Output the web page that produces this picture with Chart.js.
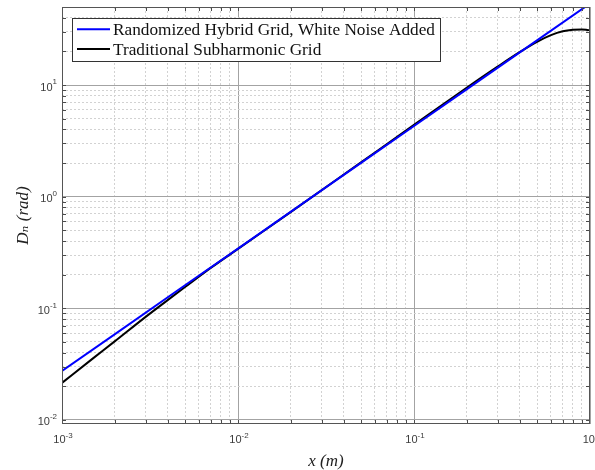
<!DOCTYPE html>
<html><head><meta charset="utf-8">
<script src="https://cdn.jsdelivr.net/npm/chart.js@4"></script>
<style>html,body{margin:0;padding:0;background:#fff}#wrap{width:595px;height:470px;position:relative}</style>
</head><body><div id="wrap"><canvas id="c"></canvas></div>
<script>
// ---- data ----
const xBlue = [0.001, 0.002, 0.005, 0.01, 0.02, 0.05, 0.1, 0.2, 0.5, 1];
const yBlue = [0.0275, 0.0587, 0.161, 0.343, 0.734, 2.01, 4.30, 9.19, 25.1, 53.7];
const xBlack = [0.001, 0.0015, 0.002, 0.003, 0.004, 0.005, 0.007, 0.01, 0.02, 0.05, 0.1, 0.2, 0.3, 0.4, 0.5, 0.6, 0.7, 0.8, 0.9, 0.95, 1.0];
const yBlack = [0.0215, 0.0356, 0.0508, 0.0843, 0.119, 0.155, 0.230, 0.341, 0.73, 2.03, 4.4, 9.5, 14.7, 19.8, 24.4, 28.0, 30.3, 31.3, 31.5, 31.3, 30.9];
const seriesLabels = ['Randomized Hybrid Grid, White Noise Added', 'Traditional Subharmonic Grid'];
const seriesColors = ['#0000ff', '#000000'];
const xMajorTicks = [0.001, 0.01, 0.1, 1];
const xTickExponents = ['-3', '-2', '-1', '0'];
const yMajorTicks = [0.01, 0.1, 1, 10];
const yTickExponents = ['-2', '-1', '0', '1'];
const xRange = [0.001, 1];
const yRange = [0.0092, 50];
const xTitle = 'x (m)';
const yTitle = 'D\u2099 (rad)';

function allTicks(majors, min, max) {
  const out = [];
  majors.forEach(m => { for (let k = 1; k <= 9; k++) { const v = m * k; if (v >= min * 0.999 && v <= max * 1.001) out.push(v); } });
  return out;
}
function isMajor(v, majors) { return majors.some(m => Math.abs(v / m - 1) < 1e-6); }
const ptsBlue = xBlue.map((x, i) => ({x, y: yBlue[i]}));
const ptsBlack = xBlack.map((x, i) => ({x, y: yBlack[i]}));

const matlabAxes = {
  id: 'matlabAxes',
  afterDatasetsDraw(chart) {
    const ctx = chart.ctx;
    const {left, right, top, bottom} = chart.chartArea;
    const xs = chart.scales.x, ys = chart.scales.y;
    ctx.save();
    // inner tick marks on all four sides
    ctx.strokeStyle = '#4a4a4a'; ctx.lineWidth = 1;
    ctx.beginPath();
    xs.ticks.forEach(t => {
      const p = Math.round(xs.getPixelForValue(t.value)) + 0.5;
      if (p < left || p > right) return;
      ctx.moveTo(p, bottom); ctx.lineTo(p, bottom - 4);
      ctx.moveTo(p, top); ctx.lineTo(p, top + 4);
    });
    ys.ticks.forEach(t => {
      const p = Math.round(ys.getPixelForValue(t.value)) + 0.5;
      if (p < top || p > bottom) return;
      ctx.moveTo(left, p); ctx.lineTo(left + 4, p);
      ctx.moveTo(right, p); ctx.lineTo(right - 4, p);
    });
    ctx.stroke();
    // axes box
    ctx.strokeStyle = '#555'; ctx.lineWidth = 1;
    ctx.strokeRect(left + 0.5, top + 0.5, right - left - 1, bottom - top - 1);
    // tick labels with superscripts
    ctx.fillStyle = '#3c3c3c';
    const base = '11px "Liberation Sans", Arial, sans-serif';
    const sup = '8px "Liberation Sans", Arial, sans-serif';
    ctx.textBaseline = 'middle'; ctx.textAlign = 'left';
    xMajorTicks.forEach((v, i) => {
      const p = xs.getPixelForValue(v);
      ctx.font = base; const w1 = ctx.measureText('10').width;
      ctx.font = sup; const w2 = ctx.measureText(xTickExponents[i]).width;
      const x0 = p + 1 - (w1 + w2) / 2;
      ctx.font = base; ctx.fillText('10', x0, bottom + 16);
      ctx.font = sup; ctx.fillText(xTickExponents[i], x0 + w1, bottom + 12);
    });
    yMajorTicks.forEach((v, i) => {
      const p = ys.getPixelForValue(v);
      ctx.font = base; const w1 = ctx.measureText('10').width;
      ctx.font = sup; const w2 = ctx.measureText(yTickExponents[i]).width;
      const x0 = left - 5 - (w1 + w2);
      ctx.font = base; ctx.fillText('10', x0, p + 2.5);
      ctx.font = sup; ctx.fillText(yTickExponents[i], x0 + w1, p - 3);
    });
    // legend
    const lx = left + 10.5, ly = top + 11.5, lw = 368, lh = 43;
    ctx.fillStyle = '#fff'; ctx.fillRect(lx, ly, lw, lh);
    ctx.strokeStyle = '#333'; ctx.strokeRect(lx, ly, lw, lh);
    ctx.font = '100px "Liberation Serif", "Times New Roman", serif';
    const w100 = ctx.measureText(seriesLabels[0]).width;
    const fs = 100 * 322 / w100;
    ctx.font = fs.toFixed(2) + 'px "Liberation Serif", "Times New Roman", serif';
    ctx.fillStyle = '#111';
    chart.data.datasets.forEach((ds, i) => {
      const yy = top + 22.3 + i * 19.8;
      ctx.strokeStyle = ds.borderColor; ctx.lineWidth = 2;
      ctx.beginPath(); ctx.moveTo(left + 15, yy); ctx.lineTo(left + 48, yy); ctx.stroke();
      ctx.fillText(ds.label, left + 51, yy + 1);
    });
    ctx.restore();
  }
};

const gridColor = majors => ctx => (ctx.tick && isMajor(ctx.tick.value, majors)) ? '#a3a3a3' : '#d2d2d2';
const gridDash = majors => ctx => (ctx.tick && isMajor(ctx.tick.value, majors)) ? [] : [2, 2];
const titleFont = {family: '"Liberation Serif", "DejaVu Serif", serif', size: 17, style: 'italic', lineHeight: 1};

new Chart(document.getElementById('c'), {
  type: 'line',
  data: {
    datasets: [
      {label: seriesLabels[0], data: ptsBlue, borderColor: seriesColors[0], borderWidth: 2, pointRadius: 0, fill: false, tension: 0},
      {label: seriesLabels[1], data: ptsBlack, borderColor: seriesColors[1], borderWidth: 2, pointRadius: 0, fill: false, cubicInterpolationMode: 'monotone'}
    ]
  },
  options: {
    responsive: true, maintainAspectRatio: false, animation: false,
    devicePixelRatio: 1,
    layout: {padding: {top: 7, right: 5, left: 0, bottom: 0}},
    plugins: {legend: {display: false}, tooltip: {enabled: false}},
    scales: {
      x: {
        type: 'logarithmic', min: xRange[0], max: xRange[1],
        afterBuildTicks: s => { s.ticks = allTicks(xMajorTicks, xRange[0], xRange[1]).map(v => ({value: v})); },
        afterFit: s => { s.height = 46; s.paddingLeft = 0; s.paddingRight = 0; },
        ticks: {display: false},
        grid: {color: gridColor(xMajorTicks), lineWidth: 1, drawTicks: false},
        border: {display: false, dash: gridDash(xMajorTicks)},
        title: {display: true, text: xTitle, font: titleFont, color: '#222', padding: {top: 0, bottom: 0}}
      },
      y: {
        type: 'logarithmic', min: yRange[0], max: yRange[1],
        afterBuildTicks: s => { s.ticks = allTicks(yMajorTicks, yRange[0], yRange[1]).map(v => ({value: v})); },
        afterFit: s => { s.width = 62; s.paddingTop = 0; s.paddingBottom = 0; },
        ticks: {display: false},
        grid: {color: gridColor(yMajorTicks), lineWidth: 1, drawTicks: false},
        border: {display: false, dash: gridDash(yMajorTicks)},
        title: {display: true, text: yTitle, font: titleFont, color: '#222', padding: {top: 15, bottom: 0}}
      }
    }
  },
  plugins: [matlabAxes]
});
</script></body></html>
